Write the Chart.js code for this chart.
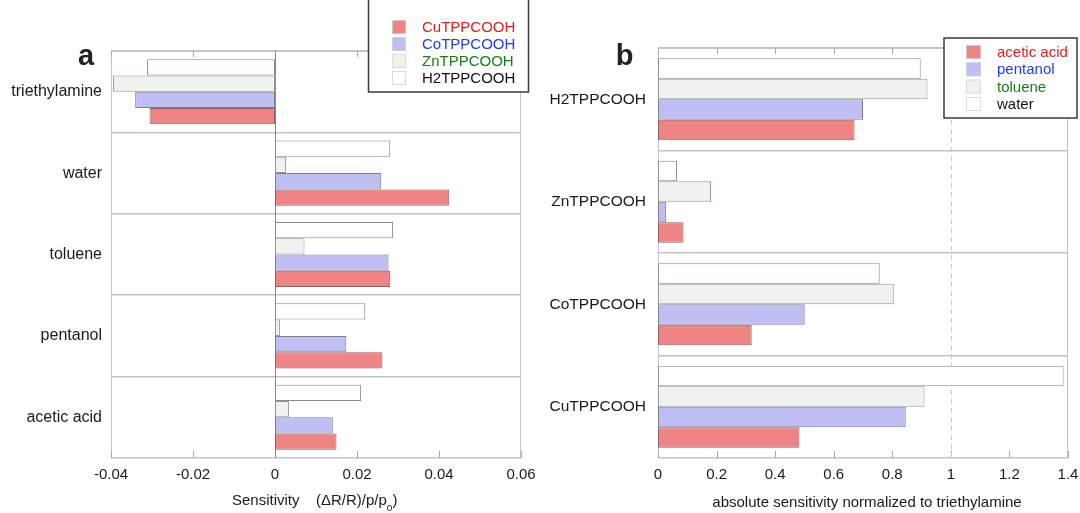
<!DOCTYPE html>
<html><head><meta charset="utf-8">
<script src="https://cdn.jsdelivr.net/npm/chart.js@4"></script>
<style>
html,body{margin:0;padding:0;background:#fff;width:1080px;height:513px;overflow:hidden;}
.wrap{position:absolute;top:0;height:513px;width:540px;}
</style></head><body>
<div class="wrap" style="left:0"><canvas id="ca" width="540" height="513"></canvas></div>
<div class="wrap" style="left:540px"><canvas id="cb" width="540" height="513"></canvas></div>
<script>
// ---------- Panel a data ----------
const solventsA = ['triethylamine', 'water', 'toluene', 'pentanol', 'acetic acid'];
const H2_A = [-0.0312, 0.0281, 0.0288, 0.0220, 0.0210];
const Zn_A = [-0.0395, 0.0027, 0.0072, 0.0012, 0.0034];
const Co_A = [-0.0341, 0.0259, 0.0277, 0.0174, 0.0141];
const Cu_A = [-0.0306, 0.0425, 0.0281, 0.0262, 0.0150];
const xTicksA = ['-0.04', '-0.02', '0', '0.02', '0.04', '0.06'];
const seriesNamesA = ['H2TPPCOOH', 'ZnTPPCOOH', 'CoTPPCOOH', 'CuTPPCOOH'];

// ---------- Panel b data ----------
const porphyrinsB = ['H2TPPCOOH', 'ZnTPPCOOH', 'CoTPPCOOH', 'CuTPPCOOH'];
const water_B = [0.897, 0.065, 0.757, 1.385];
const toluene_B = [0.920, 0.181, 0.805, 0.910];
const pentanol_B = [0.700, 0.027, 0.501, 0.846];
const acetic_B = [0.671, 0.087, 0.320, 0.483];
const xTicksB = ['0', '0.2', '0.4', '0.6', '0.8', '1', '1.2', '1.4'];
const seriesNamesB = ['water', 'toluene', 'pentanol', 'acetic acid'];

// ---------- styles ----------
const FONT = "'Liberation Sans', Arial, sans-serif";
const fills = ['#ffffff', '#eef3ee', '#bfbff3', '#ef8484'];
const borders = ['#8a8a8a', '#949894', '#7e7e92', '#8e6262'];
const textCols = ['#111111', '#1c7a1c', '#1f3fe0', '#e3201c'];

const deco = {
  id: 'deco',
  beforeDatasetsDraw(chart, args, o) {
    const { ctx, chartArea: ca, scales: { x } } = chart;
    ctx.save();
    ctx.strokeStyle = '#c4c4d6';
    ctx.lineWidth = 1;
    ctx.strokeRect(ca.left + 0.5, ca.top + 0.5, ca.right - ca.left - 1, ca.bottom - ca.top - 1);
    ctx.strokeStyle = '#a8a8b4';
    x.ticks.forEach(t => {
      const px = Math.round(x.getPixelForValue(t.value)) + 0.5;
      ctx.beginPath();
      ctx.moveTo(px, ca.top); ctx.lineTo(px, ca.top + 6);
      ctx.moveTo(px, ca.bottom); ctx.lineTo(px, ca.bottom - 7);
      ctx.stroke();
    });
    if (o.zero != null) {
      const px = Math.round(x.getPixelForValue(o.zero)) + 0.5;
      ctx.strokeStyle = '#8a8a8a';
      ctx.beginPath(); ctx.moveTo(px, ca.top); ctx.lineTo(px, ca.bottom); ctx.stroke();
    }
    if (o.dash != null) {
      const px = Math.round(x.getPixelForValue(o.dash)) + 0.5;
      ctx.strokeStyle = '#c8c8c8';
      ctx.setLineDash([5, 4]);
      ctx.beginPath(); ctx.moveTo(px, ca.top); ctx.lineTo(px, ca.bottom); ctx.stroke();
      ctx.setLineDash([]);
    }
    ctx.restore();
  },
  afterDraw(chart, args, o) {
    const { ctx } = chart;
    ctx.save();
    // legend box
    const L = o.legend;
    ctx.fillStyle = '#fff';
    ctx.fillRect(L.x, L.y, L.w, L.h);
    ctx.strokeStyle = '#3a3a3a';
    ctx.lineWidth = 1.5;
    ctx.strokeRect(L.x, L.y, L.w, L.h);
    const ds = chart.data.datasets;
    ctx.font = '15px ' + FONT;
    ctx.textBaseline = 'middle';
    ctx.textAlign = 'left';
    for (let k = 0; k < ds.length; k++) {
      const d = ds[ds.length - 1 - k];
      const cy = L.row0 + k * L.step;
      ctx.fillStyle = d.backgroundColor;
      ctx.fillRect(L.sx, cy - 7, L.sw, 14);
      ctx.strokeStyle = '#d4d4d4';
      ctx.lineWidth = 0.8;
      ctx.strokeRect(L.sx + 0.5, cy - 6.5, L.sw - 1, 13);
      ctx.fillStyle = d.textColor;
      ctx.fillText(d.label, L.tx, cy + 1);
    }
    // panel letter
    ctx.fillStyle = '#222';
    ctx.font = 'bold 29px ' + FONT;
    ctx.textAlign = 'center';
    ctx.textBaseline = 'alphabetic';
    ctx.fillText(o.letter.t, o.letter.x, o.letter.y);
    // axis title
    ctx.fillStyle = '#1a1a1a';
    ctx.font = '15px ' + FONT;
    ctx.textBaseline = 'middle';
    if (o.titleParts) {
      ctx.textAlign = 'left';
      const P = o.titleParts;
      ctx.fillText(P.a, P.ax, P.y);
      ctx.fillText(P.b, P.bx, P.y);
      const wb = ctx.measureText(P.b).width;
      ctx.font = '10px ' + FONT;
      ctx.fillText(P.sub, P.bx + wb, P.y + 7);
      const ws = ctx.measureText(P.sub).width;
      ctx.font = '15px ' + FONT;
      ctx.fillText(')', P.bx + wb + ws, P.y);
    } else {
      ctx.textAlign = 'center';
      ctx.fillText(o.title.t, o.title.x, o.title.y);
    }
    ctx.restore();
  }
};

function makeDatasets(names, arrays) {
  return names.map((n, i) => ({
    label: n,
    data: arrays[i],
    backgroundColor: fills[i],
    borderColor: borders[i],
    textColor: textCols[i],
    borderWidth: 1,
    borderSkipped: false,
    barPercentage: 1,
    categoryPercentage: 0.8
  }));
}

function baseOptions(cfg) {
  return {
    indexAxis: 'y',
    responsive: false,
    animation: false,
    layout: { padding: { left: 0, right: cfg.padRight, top: cfg.padTop, bottom: 0 } },
    scales: {
      x: {
        type: 'linear', min: cfg.min, max: cfg.max,
        ticks: { stepSize: cfg.step, callback: (v, i) => cfg.tickLabels[i], font: { family: FONT, size: 15 }, color: '#1a1a1a', padding: 8, maxRotation: 0, autoSkip: false },
        grid: { display: false, drawTicks: false },
        border: { display: false },
        afterFit: s => { s.height = 55; s.paddingLeft = 0; s.paddingRight = 0; }
      },
      y: {
        type: 'category',
        ticks: { font: { family: FONT, size: cfg.yFont }, color: '#1a1a1a', padding: cfg.yPad, autoSkip: false },
        grid: { drawTicks: false, color: '#c2c2c2', lineWidth: 1.5, offset: true },
        border: { display: false },
        afterFit: s => { s.width = cfg.yWidth; s.paddingTop = 0; s.paddingBottom = 0; }
      }
    },
    plugins: {
      legend: { display: false },
      tooltip: { enabled: false },
      deco: cfg.deco
    }
  };
}

new Chart(document.getElementById('ca'), {
  type: 'bar',
  data: { labels: solventsA, datasets: makeDatasets(seriesNamesA, [H2_A, Zn_A, Co_A, Cu_A]) },
  options: baseOptions({
    min: -0.04, max: 0.06, step: 0.02, tickLabels: xTicksA,
    padRight: 19, padTop: 51, yWidth: 111, yFont: 16, yPad: 9,
    deco: {
      zero: 0,
      legend: { x: 368.5, y: -2, w: 160, h: 94, sx: 392, sw: 14, tx: 422, row0: 27, step: 17 },
      letter: { t: 'a', x: 86, y: 65 },
      titleParts: { a: 'Sensitivity', ax: 232, b: '(ΔR/R)/p/p', bx: 316, sub: 'o', y: 501 }
    }
  }),
  plugins: [deco]
});

new Chart(document.getElementById('cb'), {
  type: 'bar',
  data: { labels: porphyrinsB, datasets: makeDatasets(seriesNamesB, [water_B, toluene_B, pentanol_B, acetic_B]) },
  options: baseOptions({
    min: 0, max: 1.4, step: 0.2, tickLabels: xTicksB,
    padRight: 12, padTop: 48, yWidth: 118, yFont: 15.5, yPad: 12,
    deco: {
      dash: 1,
      legend: { x: 404, y: 38, w: 133, h: 80, sx: 426, sw: 15, tx: 457, row0: 52, step: 17.3 },
      letter: { t: 'b', x: 84.5, y: 65 },
      title: { t: 'absolute sensitivity normalized to triethylamine', x: 327, y: 503 }
    }
  }),
  plugins: [deco]
});
</script>
</body></html>
